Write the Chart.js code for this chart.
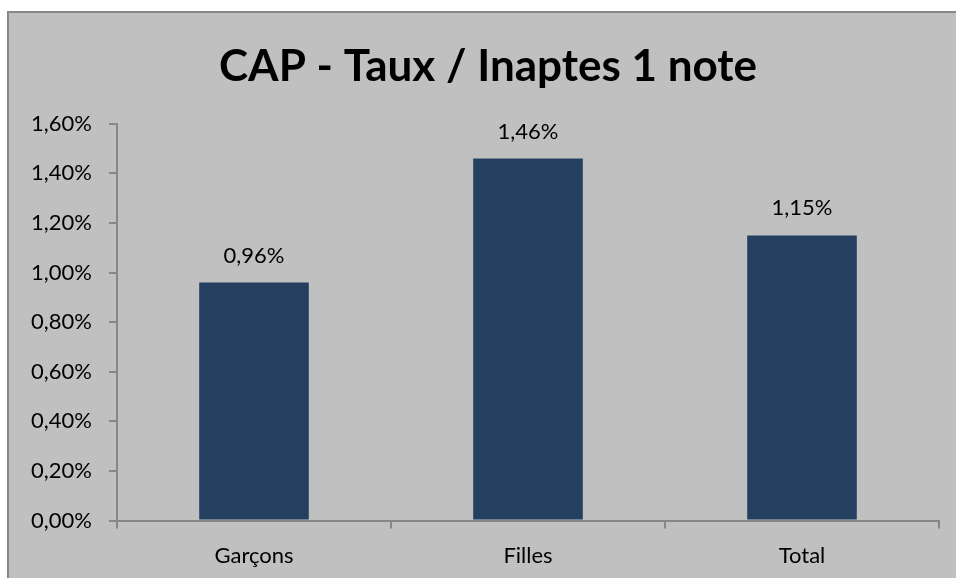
<!DOCTYPE html>
<html lang="fr">
<head>
<meta charset="UTF-8">
<title>CAP - Taux / Inaptes 1 note</title>
<script src="https://cdn.jsdelivr.net/npm/chart.js"></script>
<style>
  body { margin: 0; background: #fff; }
  #wrap {
    position: absolute; left: 7px; top: 11px; width: 949px; height: 567px;
    background: #c0c0c0; border-left: 2px solid #878787; border-top: 2px solid #878787;
  }
</style>
</head>
<body>
<div id="wrap"><canvas id="chart" width="947" height="565"></canvas></div>
<script>
const categories = ['Garçons', 'Filles', 'Total'];
const taux = [0.96, 1.46, 1.15];
const yMax = 1.6;
const yStep = 0.2;

const fmt = v => v.toFixed(2).replace('.', ',') + '%';
const fontFamily = 'Lato, "Open Sans", sans-serif';

// valeurs au-dessus des barres
const barLabels = {
  id: 'barLabels',
  afterDatasetsDraw(chart) {
    const ctx = chart.ctx;
    ctx.save();
    ctx.font = '22px ' + fontFamily;
    ctx.fillStyle = '#000';
    ctx.textAlign = 'center';
    ctx.textBaseline = 'middle';
    chart.getDatasetMeta(0).data.forEach((bar, i) => {
      ctx.fillText(fmt(taux[i]), bar.x, bar.y - 27);
    });
    ctx.restore();
  }
};

new Chart(document.getElementById('chart'), {
  type: 'bar',
  data: {
    labels: categories,
    datasets: [{
      data: taux,
      backgroundColor: '#243f60',
      barPercentage: 0.8,
      categoryPercentage: 0.5
    }]
  },
  options: {
    responsive: false,
    animation: false,
    layout: { padding: { left: 18, right: 7, top: 0, bottom: -5 } },
    plugins: {
      legend: { display: false },
      tooltip: { enabled: false },
      title: {
        display: true,
        text: 'CAP - Taux / Inaptes 1 note',
        color: '#000',
        font: { family: fontFamily, size: 44, weight: 'bold' },
        padding: { top: 27, bottom: 31 }
      }
    },
    scales: {
      x: {
        grid: { drawOnChartArea: false, drawTicks: true, tickLength: 8, color: '#878787', lineWidth: 2 },
        border: { color: '#878787', width: 2 },
        ticks: { color: '#000', font: { family: fontFamily, size: 22 }, padding: 14 }
      },
      y: {
        min: 0,
        max: yMax,
        afterFit: scale => { scale.width = 90; },
        grid: { drawOnChartArea: false, drawTicks: true, tickLength: 8, color: '#878787', lineWidth: 2 },
        border: { color: '#878787', width: 2 },
        ticks: {
          stepSize: yStep,
          color: '#000',
          font: { family: fontFamily, size: 22 },
          padding: 17,
          callback: v => fmt(v)
        }
      },
      // marge droite vide
      yRight: {
        position: 'right',
        min: 0,
        max: yMax,
        afterFit: scale => { scale.width = 10; },
        grid: { display: false },
        border: { display: false },
        ticks: { display: false }
      }
    }
  },
  plugins: [barLabels]
});
</script>
</body>
</html>
